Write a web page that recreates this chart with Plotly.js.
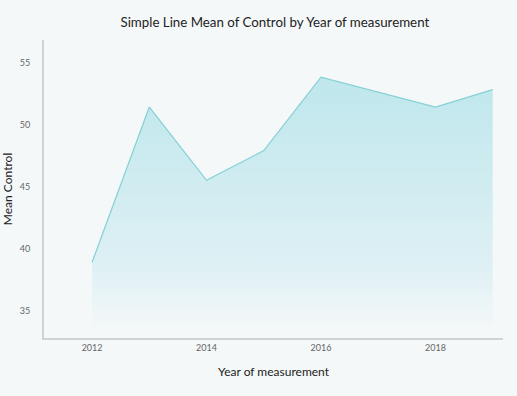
<!DOCTYPE html>
<html>
<head>
<meta charset="utf-8">
<script src="https://cdn.plot.ly/plotly-3.0.1.min.js"></script>
<style>html,body{margin:0;padding:0;background:#f4f8f9;}#chart{width:517px;height:396px;}</style>
</head>
<body>
<div id="chart"></div>
<script>
const years = [2012, 2013, 2014, 2015, 2016, 2017, 2018, 2019];
const meanControl = [38.9, 51.4, 45.5, 47.9, 53.8, 52.6, 51.4, 52.8];
const xTicks = [2012, 2014, 2016, 2018];
const yTicks = [35, 40, 45, 50, 55];

const trace = {
  x: years,
  y: meanControl,
  type: 'scatter',
  mode: 'lines',
  line: {color: '#84d0d6', width: 1.2},
  fill: 'tozeroy',
  fillgradient: {
    type: 'vertical',
    start: 33.5,
    stop: 54,
    colorscale: [[0, 'rgba(244,248,249,1)'], [0.25, 'rgba(222,240,244,1)'], [1, 'rgba(190,231,236,1)']]
  },
  hoverinfo: 'skip'
};

const layout = {
  width: 517, height: 396,
  margin: {l: 44, r: 14, t: 40, b: 58},
  paper_bgcolor: '#f4f8f9',
  plot_bgcolor: '#f4f8f9',
  font: {family: 'Lato, sans-serif', color: '#222'},
  title: {text: 'Simple Line Mean of Control by Year of measurement', x: 0.503, xref: 'paper', xanchor: 'center', y: 0.955, yref: 'container', font: {size: 13.3, color: '#222'}},
  xaxis: {
    range: [2011.16, 2019.18],
    tickvals: xTicks, ticktext: xTicks.map(String),
    showgrid: false, zeroline: false,
    showline: true, linecolor: '#cfd3d5', linewidth: 2,
    ticks: '', tickfont: {size: 9, color: '#666'},
    title: {text: 'Year of measurement', font: {size: 12, color: '#222'}, standoff: 16}
  },
  yaxis: {
    range: [32.8, 56.8],
    tickvals: yTicks, ticktext: yTicks.map(String),
    showgrid: false, zeroline: false,
    showline: true, linecolor: '#cfd3d5', linewidth: 2,
    ticks: '', tickfont: {size: 9, color: '#666'}, ticklabelstandoff: 10,
    title: {text: 'Mean Control', font: {size: 12, color: '#222'}, standoff: 5}
  },
  showlegend: false
};

Plotly.newPlot('chart', [trace], layout, {displayModeBar: false, staticPlot: true});
</script>
</body>
</html>
